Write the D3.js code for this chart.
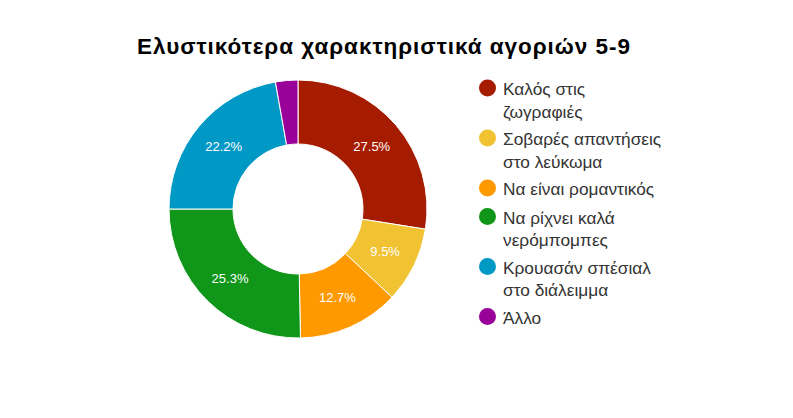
<!doctype html>
<html>
<head>
	<meta charset="utf-8">
	<script src="https://d3js.org/d3.v7.min.js"></script>
	<style>
		body { margin: 0; background: #fff; }
		text { font-family: Arial, "Liberation Sans", sans-serif; }
	</style>
</head>
<body>
	<svg id="chart" width="793" height="418"></svg>
	<script>
		var categories = [
			["Καλός στις", "ζωγραφιές"],
			["Σοβαρές απαντήσεις", "στο λεύκωμα"],
			["Να είναι ρομαντικός"],
			["Να ρίχνει καλά", "νερόμπομπες"],
			["Κρουασάν σπέσιαλ", "στο διάλειμμα"],
			["Άλλο"]
		];
		var values = [27.5, 9.5, 12.7, 25.3, 22.2, 2.8];
		var colors = ["#a61c00", "#f1c232", "#ff9900", "#109618", "#0099c6", "#990099"];
		var title = "Ελυστικότερα χαρακτηριστικά αγοριών 5-9";

		var svg = d3.select("#chart");
		var cx = 298, cy = 209, outerR = 129, innerR = 65;

		svg.append("text")
			.attr("x", 137)
			.attr("y", 54)
			.attr("font-size", 22.5)
			.attr("font-weight", "bold")
			.attr("fill", "#000")
			.attr("textLength", 493)
			.attr("lengthAdjust", "spacing")
			.text(title);

		var pie = d3.pie().sort(null).value(d => d);
		var arc = d3.arc().innerRadius(innerR).outerRadius(outerR);
		var labelArc = d3.arc().innerRadius((innerR + outerR) / 2).outerRadius((innerR + outerR) / 2);

		var g = svg.append("g").attr("transform", "translate(" + cx + "," + cy + ")");
		var slices = pie(values);

		g.selectAll("path")
			.data(slices)
			.enter()
			.append("path")
				.attr("d", arc)
				.attr("fill", (d, i) => colors[i])
				.attr("stroke", "#fff")
				.attr("stroke-width", 1);

		g.selectAll("text.pct")
			.data(slices.filter(d => d.value >= 5))
			.enter()
			.append("text")
				.attr("class", "pct")
				.attr("transform", d => "translate(" + labelArc.centroid(d) + ")")
				.attr("text-anchor", "middle")
				.attr("dy", "0.36em")
				.attr("font-size", 13)
				.attr("fill", "#fff")
				.text(d => d.value.toFixed(1) + "%");

		// legend
		var legendY = [88, 138, 188, 216.5, 266.5, 316.5];
		var legend = svg.append("g");
		categories.forEach(function(lines, i) {
			legend.append("circle")
				.attr("cx", 487.5)
				.attr("cy", legendY[i])
				.attr("r", 8.5)
				.attr("fill", colors[i]);
			var t = legend.append("text")
				.attr("x", 503)
				.attr("y", legendY[i] + 7)
				.attr("font-family", "Roboto, Arial, sans-serif")
				.attr("font-size", 17.3)
				.attr("fill", "#333");
			lines.forEach(function(line, j) {
				t.append("tspan")
					.attr("x", 503)
					.attr("dy", j === 0 ? 0 : 22.5)
					.text(line);
			});
		});
	</script>
</body>
</html>
